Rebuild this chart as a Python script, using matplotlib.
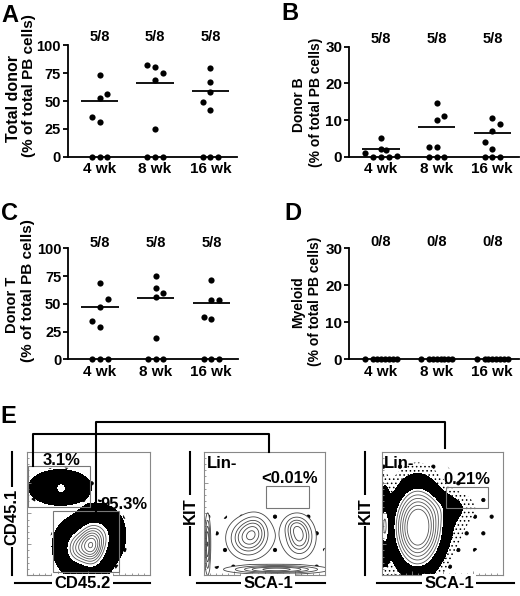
import numpy as np
import matplotlib
matplotlib.use("Agg")
import matplotlib.pyplot as plt
from matplotlib.lines import Line2D
from matplotlib.patches import Rectangle

plt.rcParams['font.family'] = ['Liberation Sans', 'DejaVu Sans']
plt.rcParams['font.weight'] = 'bold'
plt.rcParams['hatch.color'] = 'black'
plt.rcParams['hatch.linewidth'] = 0.6

# ---- data: dot plots (percent of total PB cells, 8 mice per time point)
weeks = ['4 wk', '8 wk', '16 wk']
total_donor = [[73.2, 56.3, 52.4, 35.8, 31.3, 0, 0, 0],
               [82.8, 80.7, 75.3, 69.0, 24.7, 0, 0, 0],
               [79.5, 67.2, 57.8, 48.8, 42.2, 0, 0, 0]]
donor_b = [[5.2, 2.2, 1.7, 1.1, 0.3, 0, 0, 0],
           [14.6, 11.2, 9.9, 2.7, 2.7, 0, 0, 0],
           [10.5, 9.0, 7.0, 4.1, 2.2, 0, 0, 0]]
donor_t = [[69.0, 53.9, 47.3, 34.6, 29.2, 0, 0, 0],
           [75.3, 64.2, 59.6, 55.7, 19.6, 0, 0, 0],
           [71.1, 53.0, 53.0, 38.0, 36.4, 0, 0, 0]]
myeloid = [[0, 0, 0, 0, 0, 0, 0, 0],
           [0, 0, 0, 0, 0, 0, 0, 0],
           [0, 0, 0, 0, 0, 0, 0, 0]]

# horizontal spread of the dots (in dot widths), layout only
jit_a = [[0, 1, 0, -1, 0, -1, 0, 1], [-1, 0, 1, 0, 0, -1, 0, 1], [0, 0, 0, -1, 0, -1, 0, 1]]
jit_b = [[0, 0, 0.6, -2, 2, -1, 0, 1], [0, 1, 0, -1, 0, -1, 0, 1], [0, 1, 0, -1, 0, -1, 0, 1]]
jit_c = [[0, 1, 0, -1, 0, -1, 0, 1], [0, 0, 1, 0, 0, -1, 0, 1], [0, 0, 1, -1, 0, -1, 0, 1]]
jit_d = [[-2, -1, -0.5, 0, 0.5, 1, 1.5, 2]] * 3

# ---- data: flow cytometry populations (cx, cy, sx, sy, weight) in axis fraction
flow1_pops = [(0.27, 0.71, 0.10, 0.057, 0.30),
              (0.28, 0.70, 0.028, 0.035, 0.25),
              (0.48, 0.24, 0.093, 0.09, 0.80),
              (0.62, 0.33, 0.07, 0.09, 0.35),
              (0.53, 0.24, 0.06, 0.11, 1.00),
              (0.40, 0.20, 0.06, 0.08, 0.40)]
flow2_pops = [(0.36, 0.30, 0.08, 0.08, 0.70),
              (0.42, 0.36, 0.06, 0.07, 0.40),
              (0.79, 0.31, 0.06, 0.08, 0.70),
              (0.75, 0.39, 0.05, 0.05, 0.30),
              (0.60, 0.045, 0.20, 0.018, 0.80),
              (0.03, 0.25, 0.012, 0.12, 0.70),
              (0.57, 0.30, 0.30, 0.17, 0.06)]
flow3_pops = [(0.29, 0.38, 0.13, 0.24, 1.00),
              (0.33, 0.40, 0.16, 0.18, 0.30),
              (0.58, 0.55, 0.12, 0.08, 0.15),
              (0.02, 0.40, 0.03, 0.23, 0.40),
              (0.70, 0.45, 0.18, 0.20, 0.05)]
flow_pcts = [['3.1%', '95.3%'], ['<0.01%'], ['0.21%']]

W, H = 520, 596
fig = plt.figure(figsize=(W / 100, H / 100), dpi=100)


def px_axes(l, t, r, b):
    return fig.add_axes([l / W, 1 - b / H, (r - l) / W, (b - t) / H])


def ftext(x, y, s, **kw):
    return fig.text(x / W, 1 - y / H, s, **kw)


def fline(xs, ys, lw=1.5):
    fig.add_artist(Line2D([x / W for x in xs], [1 - y / H for y in ys],
                          color='black', lw=lw, transform=fig.transFigure))


def dot_panel(ax, values, jitter, ymax, yticks, count_y, tick_fs):
    step = 0.14
    for i, (vals, jit) in enumerate(zip(values, jitter)):
        xs = [i + j * step for j in jit]
        ax.scatter(xs, vals, s=20, color='black', clip_on=False, zorder=3, linewidths=0)
        pos = [v for v in vals if v > 0]
        if pos:
            ax.hlines(np.mean(pos), i - 0.335, i + 0.335, color='black', lw=1.3, zorder=4)
        ax.text(i, count_y, f"{len(pos)}/{len(vals)}", transform=ax.get_xaxis_transform(),
                ha='center', va='baseline', fontsize=10.5, fontweight='bold')
    ax.set_xlim(-0.57, 2.48)
    ax.set_ylim(0, ymax)
    ax.set_xticks(range(3))
    ax.set_xticklabels(weeks, fontsize=11, fontweight='bold')
    ax.set_yticks(yticks)
    ax.set_yticklabels([str(t) for t in yticks], fontsize=tick_fs, fontweight='bold')
    ax.tick_params(axis='x', length=0, pad=4)
    ax.tick_params(axis='y', length=3.5, width=1.3, pad=1.5)
    for s in ['top', 'right']:
        ax.spines[s].set_visible(False)
    for s in ['left', 'bottom']:
        ax.spines[s].set_linewidth(1.3)


ax_a = px_axes(68, 45.5, 237, 156.7)
dot_panel(ax_a, total_donor, jit_a, 100, [0, 25, 50, 75, 100], 1.043, 10.5)
ax_b = px_axes(349.3, 46.7, 519, 156.7)
dot_panel(ax_b, donor_b, jit_b, 30, [0, 10, 20, 30], 1.036, 11)
ax_c = px_axes(68.3, 248.3, 238, 359.3)
dot_panel(ax_c, donor_t, jit_c, 100, [0, 25, 50, 75, 100], 1.014, 10.5)
ax_d = px_axes(349.3, 248.3, 519, 359.3)
dot_panel(ax_d, myeloid, jit_d, 30, [0, 10, 20, 30], 1.023, 11)

# y labels (two lines each)
ylab = dict(rotation=90, ha='center', va='center', fontweight='bold')
ftext(14, 98, 'Total donor', fontsize=11.5, **ylab)
ftext(29, 86, '(% of total PB cells)', fontsize=11, **ylab)
ftext(299, 105, 'Donor B', fontsize=10, **ylab)
ftext(316, 102, '(% of total PB cells)', fontsize=10, **ylab)
ftext(12.5, 305, 'Donor T', fontsize=10.5, **ylab)
ftext(28, 291, '(% of total PB cells)', fontsize=11, **ylab)
ftext(298.5, 302, 'Myeloid', fontsize=10, **ylab)
ftext(315, 301, '(% of total PB cells)', fontsize=10, **ylab)

# panel letters
for x, y, s in [(1, 22, 'A'), (281, 19.5, 'B'), (1, 220, 'C'), (284, 220, 'D'), (0, 423, 'E')]:
    ftext(x, y, s, fontsize=17, fontweight='bold', va='baseline')


def flow_panel(ax, pops, dot_lvs, black_lv, white_lv, line_lvs, line_col, hatches):
    g = np.linspace(0, 1, 320)
    X, Y = np.meshgrid(g, g)
    Z = np.zeros_like(X)
    for cx, cy, sx, sy, w in pops:
        Z += w * np.exp(-0.5 * (((X - cx) / sx) ** 2 + ((Y - cy) / sy) ** 2))
    top = Z.max() + 1
    ax.contourf(X, Y, Z, levels=dot_lvs + [black_lv], colors='none', hatches=hatches)
    if white_lv is not None:
        ax.contourf(X, Y, Z, levels=[black_lv, white_lv], colors='black')
        ax.contourf(X, Y, Z, levels=[white_lv, top], colors='white')
    ax.contour(X, Y, Z, levels=line_lvs, colors=line_col, linewidths=0.6)
    ax.set_xlim(0, 1)
    ax.set_ylim(0, 1)
    ax.set_xticks([0.25, 0.5, 0.75])
    ax.set_yticks([0.25, 0.5, 0.75])
    ax.set_xticks(np.arange(0.05, 1, 0.05), minor=True)
    ax.set_yticks(np.arange(0.05, 1, 0.05), minor=True)
    ax.tick_params(which='both', direction='in', labelbottom=False, labelleft=False,
                   color='#888', width=0.6)
    ax.tick_params(which='major', length=3)
    ax.tick_params(which='minor', length=1.5)
    for s in ax.spines.values():
        s.set_color('#888')
        s.set_linewidth(0.8)


def gate(ax, x0, y0, x1, y1):
    ax.add_patch(Rectangle((x0, y0), x1 - x0, y1 - y0, fill=False, ec='#777', lw=0.8, zorder=5))


f1 = px_axes(26.7, 451.7, 150, 575)
flow_panel(f1, flow1_pops, [0.005], 0.012, 0.45, [0.6, 0.8, 1.0, 1.2, 1.4, 1.6, 1.8], '#555', ['.'])
gate(f1, 0.011, 0.554, 0.513, 0.886)
gate(f1, 0.215, 0.027, 0.749, 0.519)
f1.text(0.282, 0.925, flow_pcts[0][0], ha='center', va='center', fontsize=12, zorder=6)
f1.text(0.79, 0.57, flow_pcts[0][1], ha='center', va='center', fontsize=12, zorder=6)

f2 = px_axes(204, 451.7, 325, 575)
flow_panel(f2, flow2_pops, [0.02], 0.08, None, [0.08, 0.2, 0.35, 0.5, 0.7, 0.9], '#444', ['.'])
gate(f2, 0.51, 0.546, 0.87, 0.722)
f2.text(0.025, 0.908, 'Lin-', ha='left', va='center', fontsize=12)
f2.text(0.71, 0.783, flow_pcts[1][0], ha='center', va='center', fontsize=12)

f3 = px_axes(381.7, 451.7, 503.3, 575)
flow_panel(f3, flow3_pops, [0.025, 0.09], 0.2, 0.5, [0.55, 0.65, 0.75, 0.85, 0.95, 1.05], '#555',
           ['.', '....'])
gate(f3, 0.526, 0.54, 0.872, 0.716)
f3.text(0.019, 0.908, 'Lin-', ha='left', va='center', fontsize=12, zorder=6)
f3.text(0.70, 0.778, flow_pcts[2][0], ha='center', va='center', fontsize=12, zorder=6)

# flow axis titles with rule lines
wbox = dict(facecolor='white', edgecolor='none', pad=1.5)
for x, yc, s in [(11.7, 517, 'CD45.1'), (190, 510.5, 'KIT'), (365, 510.5, 'KIT')]:
    fline([x, x], [452, 575])
    ftext(x, yc, s, rotation=90, ha='center', va='center', fontsize=12, bbox=wbox)
for x0, x1, xc, s in [(15, 150, 82.5, 'CD45.2'), (197, 325, 268, 'SCA-1'), (377, 514, 449, 'SCA-1')]:
    fline([x0, x1], [583.3, 583.3])
    ftext(xc, 583.3, s, ha='center', va='center', fontsize=12, bbox=wbox)

# gating brackets
fline([33.3, 33.3, 269, 269], [466, 434, 434, 451.7])
fline([96, 96, 445, 445], [513, 421.7, 421.7, 448])

fig.savefig('out.png', dpi=100)
